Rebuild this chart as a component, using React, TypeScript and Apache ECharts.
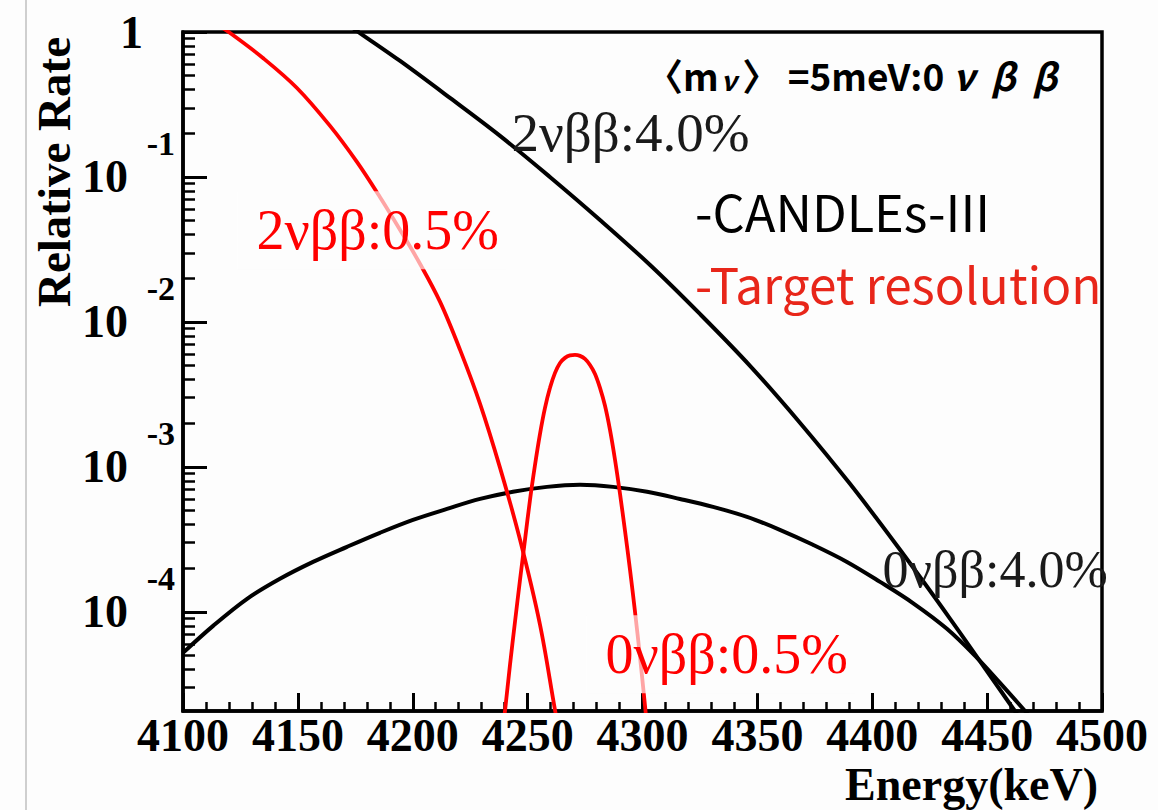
import React, { useEffect, useRef } from 'react';
import * as echarts from 'echarts';

// ---- axis ranges & tick labels ----
const X_MIN = 4100;
const X_MAX = 4500;
const X_STEP = 50;
const Y_MIN_RATE = 2.07e-5; // bottom edge of the frame
const Y_MAX_RATE = 1;
const Y_DECADE_EXPONENTS = [0, -1, -2, -3, -4];
const Y_SUPERSCRIPTS = [-1, -2, -3, -4];

// ---- curves (Energy keV, relative rate) ----
// CANDLEs-III resolution 4.0% : 2vbb
const energy2nbb40 = [4168.3, 4177.0, 4194.5, 4216.2, 4238.0, 4259.7, 4281.5, 4303.3, 4325.0, 4346.8, 4368.6, 4390.3, 4412.1, 4433.9, 4455.6, 4462.1, 4468.7];
const rate2nbb40 = [1.23, 0.984, 0.631, 0.351, 0.192, 0.1, 0.0505, 0.0247, 0.01135, 0.00498, 0.00201, 0.000764, 0.000268, 0.0000895, 0.000029, 0.0000207, 0.0000149];

// CANDLEs-III resolution 4.0% : 0vbb
const energy0nbb40 = [4100.0, 4113.1, 4127.9, 4142.2, 4156.6, 4171.4, 4185.7, 4200.1, 4214.9, 4229.3, 4243.6, 4258.4, 4272.8, 4287.2, 4302.0, 4316.3, 4330.7, 4345.5, 4359.8, 4374.2, 4389.0, 4403.4, 4417.7, 4432.5, 4445.6, 4455.6, 4466.5, 4473.0];
const rate0nbb40 = [5.21e-5, 8.0e-5, 1.23e-4, 1.69e-4, 2.21e-4, 2.81e-4, 3.51e-4, 4.31e-4, 5.13e-4, 6.01e-4, 6.73e-4, 7.28e-4, 7.52e-4, 7.28e-4, 6.73e-4, 6.01e-4, 5.3e-4, 4.52e-4, 3.68e-4, 2.9e-4, 2.21e-4, 1.61e-4, 1.15e-4, 7.64e-5, 4.82e-5, 3.24e-5, 2.07e-5, 1.56e-5];

// Target resolution 0.5% : 2vbb
const energy2nbb05 = [4113.9, 4120.5, 4134.8, 4149.6, 4164.0, 4175.7, 4185.7, 4194.5, 4203.2, 4211.9, 4220.6, 4229.3, 4238.0, 4246.7, 4255.4, 4261.9, 4264.1];
const rate2nbb05 = [1.15, 0.984, 0.662, 0.411, 0.225, 0.127, 0.0728, 0.0431, 0.0251, 0.01374, 0.00641, 0.00272, 0.000984, 0.000314, 0.0000813, 0.0000211, 0.0000137];

// Target resolution 0.5% : 0vbb
const energy0nbb05 = [4239.28, 4240.15, 4242.33, 4244.5, 4246.68, 4248.86, 4251.03, 4253.21, 4255.39, 4257.56, 4259.74, 4261.92, 4264.09, 4266.27, 4268.44, 4270.62, 4272.8, 4274.97, 4277.15, 4279.33, 4281.5, 4283.68, 4285.85, 4288.03, 4290.21, 4292.38, 4294.56, 4296.74, 4298.91, 4301.09, 4301.96];
const rate0nbb05 = [1.58e-5, 2.07e-5, 4.31e-5, 8.53e-5, 1.66e-4, 3.14e-4, 5.92e-4, 1.03e-3, 1.69e-3, 2.55e-3, 3.51e-3, 4.45e-3, 5.21e-3, 5.65e-3, 5.88e-3, 5.92e-3, 5.83e-3, 5.56e-3, 5.05e-3, 4.38e-3, 3.51e-3, 2.64e-3, 1.8e-3, 1.12e-3, 6.52e-4, 3.62e-4, 1.95e-4, 1.0e-4, 4.9e-5, 2.25e-5, 1.61e-5];

// ---- curve annotations ----
const annotationTexts = ['2νββ:4.0%', '0νββ:4.0%', '2νββ:0.5%', '0νββ:0.5%'];
const annotationEnergy = [4243.2, 4404.7, 4123.9, 4275.8];
const annotationRate = [0.201, 1.95e-4, 0.0425, 5.05e-5];
const annotationColors = ['#1a1a1a', '#1a1a1a', '#ff0000', '#ff0000'];
const annotationSizes = [55, 52, 56, 56];
const annotationBoxed = [false, false, true, true];

// ---- legend texts ----
const legendTitle = '{a|〈m}{b|ν}{a|〉 =5meV:0 }{c|ν  β  β}';
const legendCandles = '-CANDLEs-III';
const legendTarget = '-Target resolution';

const SERIF = '"Liberation Serif", "Times New Roman", serif';
const CJK = '"Noto Sans CJK JP", "Noto Sans", sans-serif';

const lg = (r: number) => Math.log10(r);
const toSeries = (es: number[], rs: number[]) => es.map((e, i) => [e, lg(rs[i])]);

export default function App() {
  const ref = useRef<HTMLDivElement>(null);

  useEffect(() => {
    if (!ref.current) return;
    const chart = echarts.init(ref.current, null, { renderer: 'svg', width: 1158, height: 810 });

    const yMin = lg(Y_MIN_RATE);
    const yMax = lg(Y_MAX_RATE);
    const minorTicks: number[] = [];
    for (let n = -5; n <= -1; n++) {
      for (let k = 2; k <= 9; k++) {
        const v = n + Math.log10(k);
        if (v > yMin && v < yMax) minorTicks.push(v);
      }
    }

    const lineBase = {
      type: 'line' as const,
      showSymbol: false,
      symbol: 'none',
      smooth: 0.35,
      clip: true,
      silent: true,
      z: 2,
    };

    const option: any = {
      animation: false,
      backgroundColor: '#fdfdfd',
      grid: {
        left: 183,
        right: 56,
        top: 32,
        bottom: 99,
        show: true,
        borderColor: '#000',
        borderWidth: 3.5,
        backgroundColor: 'transparent',
        containLabel: false,
        outerBoundsMode: 'none',
      },
      xAxis: {
        type: 'value',
        min: X_MIN,
        max: X_MAX,
        interval: X_STEP,
        axisLine: { show: true, onZero: false, lineStyle: { color: '#000', width: 3.5 } },
        axisTick: { show: true, inside: true, length: 18, lineStyle: { color: '#000', width: 3 } },
        minorTick: { show: true, splitNumber: 5, length: 9, lineStyle: { color: '#000', width: 2.5 } },
        splitLine: { show: false },
        minorSplitLine: { show: false },
        axisLabel: {
          show: true,
          margin: 6,
          lineHeight: 36,
          color: '#000',
          fontFamily: SERIF,
          fontWeight: 'bold',
          fontSize: 46,
          showMinLabel: true,
          showMaxLabel: true,
          hideOverlap: false,
          formatter: (v: number) => String(v),
        },
      },
      yAxis: [
        {
          type: 'value',
          min: yMin,
          max: yMax,
          position: 'left',
          axisLine: { show: true, onZero: false, lineStyle: { color: '#000', width: 3.5 } },
          axisTick: {
            show: true,
            inside: true,
            length: 24,
            customValues: Y_DECADE_EXPONENTS,
            lineStyle: { color: '#000', width: 3 },
          },
          splitLine: { show: false },
          axisLabel: {
            show: true,
            customValues: Y_DECADE_EXPONENTS,
            margin: 40,
            verticalAlign: 'middle',
            formatter: (v: number) => (Math.abs(v) < 1e-9 ? '{one|1}' : '{ten|10}'),
            rich: {
              one: { fontFamily: SERIF, fontWeight: 'bold', fontSize: 46, color: '#000' },
              ten: { fontFamily: SERIF, fontWeight: 'bold', fontSize: 46, color: '#000', padding: [0, 15, 0, 0] },
            },
          },
        },
        {
          type: 'value',
          min: yMin,
          max: yMax,
          position: 'left',
          axisLine: { show: false },
          axisTick: {
            show: true,
            inside: true,
            length: 12,
            customValues: minorTicks,
            lineStyle: { color: '#000', width: 2.5 },
          },
          splitLine: { show: false },
          axisLabel: {
            show: true,
            customValues: Y_SUPERSCRIPTS,
            margin: 8,
            verticalAlign: 'bottom',
            formatter: (v: number) => '{s|' + String(Math.round(v)) + '}',
            rich: {
              s: { fontFamily: SERIF, fontWeight: 'bold', fontSize: 34, color: '#000', padding: [0, 0, 16, 0] },
            },
          },
        },
      ],
      series: [
        {
          ...lineBase,
          name: '2vbb 4.0%',
          data: toSeries(energy2nbb40, rate2nbb40),
          lineStyle: { color: '#000', width: 4 },
        },
        {
          ...lineBase,
          name: '0vbb 4.0%',
          data: toSeries(energy0nbb40, rate0nbb40),
          lineStyle: { color: '#000', width: 4 },
        },
        {
          ...lineBase,
          name: '2vbb 0.5%',
          data: toSeries(energy2nbb05, rate2nbb05),
          lineStyle: { color: '#ff0000', width: 3.8 },
        },
        {
          ...lineBase,
          name: '0vbb 0.5%',
          data: toSeries(energy0nbb05, rate0nbb05),
          lineStyle: { color: '#ff0000', width: 3.8 },
        },
        {
          type: 'scatter',
          name: 'annotations',
          z: 10,
          silent: true,
          symbolSize: 1,
          itemStyle: { color: 'transparent', opacity: 1 },
          data: annotationTexts.map((t, i) => ({
            name: t,
            value: [annotationEnergy[i], lg(annotationRate[i])],
            label: {
              show: true,
              position: [0, 0],
              align: 'left',
              verticalAlign: 'middle',
              formatter: t,
              color: annotationColors[i],
              opacity: 1,
              textBorderWidth: 0,
              fontFamily: SERIF,
              fontSize: annotationSizes[i],
              lineHeight: annotationBoxed[i] ? 60 : annotationSizes[i],
              backgroundColor: annotationBoxed[i] ? 'rgba(253,253,253,0.65)' : 'transparent',
              padding: annotationBoxed[i] ? [10, 8, 8, 19] : 0,
            },
          })),
        },
      ],
      graphic: [
        { type: 'rect', silent: true, shape: { x: 25, y: 0, width: 2, height: 810 }, style: { fill: '#cfcfcf' } },
        {
          type: 'text',
          silent: true,
          x: 54,
          y: 172,
          rotation: Math.PI / 2,
          style: { text: 'Relative Rate', fontFamily: SERIF, fontWeight: 'bold', fontSize: 47, fill: '#000', align: 'center', verticalAlign: 'middle' },
        },
        {
          type: 'text',
          silent: true,
          x: 1098,
          y: 784,
          style: { text: 'Energy(keV)', fontFamily: SERIF, fontWeight: 'bold', fontSize: 46, lineHeight: 40, fill: '#000', align: 'right', verticalAlign: 'middle' },
        },
        {
          type: 'text',
          silent: true,
          x: 646,
          y: 75,
          z: 20,
          style: {
            text: legendTitle,
            align: 'left',
            verticalAlign: 'middle',
            rich: {
              a: { fontFamily: CJK, fontWeight: 'bold', fontSize: 37, fill: '#000', color: '#000' },
              b: { fontFamily: CJK, fontWeight: 'bold', fontStyle: 'italic', fontSize: 27, fill: '#000', color: '#000', padding: [8, 6, 0, 2] },
              c: { fontFamily: CJK, fontWeight: 'bold', fontStyle: 'italic', fontSize: 37, fill: '#000', color: '#000' },
            },
          },
        },
        {
          type: 'text',
          silent: true,
          x: 695,
          y: 210,
          z: 20,
          style: { text: legendCandles, fontFamily: CJK, fontSize: 50.5, fill: '#000', align: 'left', verticalAlign: 'middle' },
        },
        {
          type: 'text',
          silent: true,
          x: 695,
          y: 282,
          z: 20,
          style: { text: legendTarget, fontFamily: CJK, fontSize: 49.5, fill: '#e8261a', align: 'left', verticalAlign: 'middle' },
        },
      ],
    };

    chart.setOption(option);
    return () => chart.dispose();
  }, []);

  return <div ref={ref} style={{ position: 'fixed', left: 0, top: 0, width: 1158, height: 810 }} />;
}
